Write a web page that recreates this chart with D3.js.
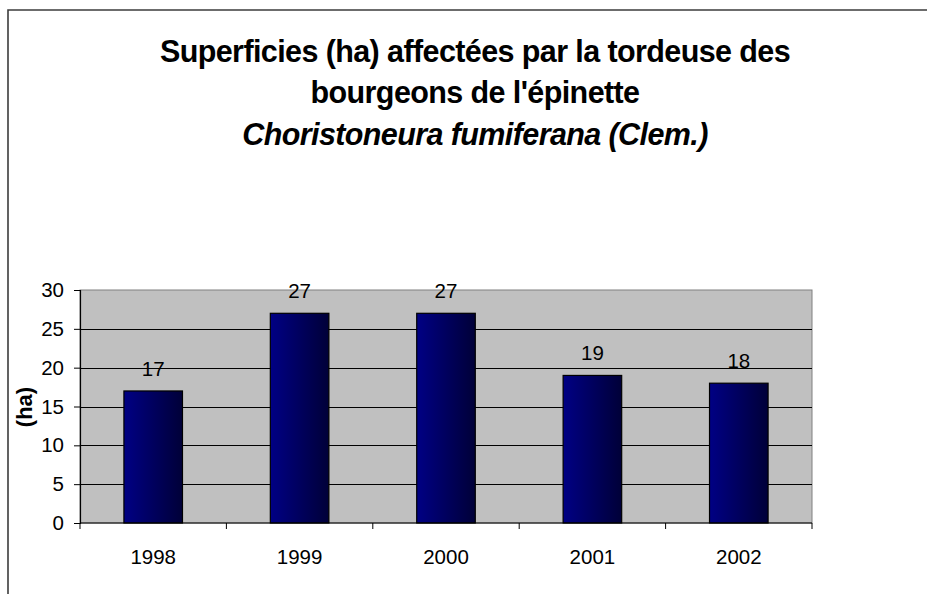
<!DOCTYPE html>
<html>
<head>
<meta charset="utf-8">
<script src="https://cdn.jsdelivr.net/npm/d3@7"></script>
<style>
  html, body { margin: 0; padding: 0; background: #fff; }
  svg { display: block; font-family: "Liberation Sans", Arial, sans-serif; }
</style>
</head>
<body>
<svg id="chart" width="927" height="594"></svg>
<script>
var years = ["1998", "1999", "2000", "2001", "2002"];
var areas = [17, 27, 27, 19, 18];
var yTicks = [0, 5, 10, 15, 20, 25, 30];
var titleLines = [
  "Superficies (ha) affectées par la tordeuse des",
  "bourgeons de l'épinette",
  "Choristoneura fumiferana (Clem.)"
];

document.addEventListener("DOMContentLoaded", function() {
  var svg = d3.select("#chart");

  var plot = { left: 80, right: 812, top: 290, bottom: 523 };

  // outer chart frame (runs off the right and bottom edges)
  svg.append("path")
    .attr("d", "M8,600 L8,10 L940,10")
    .attr("fill", "none")
    .attr("stroke", "#3c3c3c")
    .attr("stroke-width", 1.6);

  // title
  var title = svg.append("g").attr("text-anchor", "middle");
  title.selectAll("text")
    .data(titleLines)
    .enter().append("text")
    .attr("x", 475)
    .attr("y", function(d, i) { return [62, 103, 145][i]; })
    .attr("font-size", "30.5px")
    .attr("letter-spacing", "-0.6px")
    .attr("font-weight", "bold")
    .attr("font-style", function(d, i) { return i === 2 ? "italic" : "normal"; })
    .attr("fill", "#000")
    .text(function(d) { return d; });

  var x = d3.scaleBand()
    .domain(years)
    .range([plot.left, plot.right])
    .paddingInner(0.6)
    .paddingOuter(0.3);

  var y = d3.scaleLinear()
    .domain([0, 30])
    .range([plot.bottom, plot.top]);

  // category boundaries for the tick marks
  var xEdge = d3.scaleLinear()
    .domain([0, years.length])
    .range([plot.left, plot.right]);

  // plot background
  svg.append("rect")
    .attr("x", plot.left)
    .attr("y", plot.top)
    .attr("width", plot.right - plot.left)
    .attr("height", plot.bottom - plot.top)
    .attr("fill", "#c0c0c0")
    .attr("stroke", "#808080")
    .attr("stroke-width", 1);

  // gridlines
  svg.append("g")
    .selectAll("line")
    .data(yTicks.filter(function(d) { return d > 0 && d < 30; }))
    .enter().append("line")
    .attr("x1", plot.left)
    .attr("x2", plot.right)
    .attr("y1", function(d) { return Math.round(y(d)) + 0.5; })
    .attr("y2", function(d) { return Math.round(y(d)) + 0.5; })
    .attr("stroke", "#000")
    .attr("stroke-width", 1);

  // bar gradient
  var grad = svg.append("defs").append("linearGradient")
    .attr("id", "barGrad")
    .attr("x1", "0%").attr("x2", "100%")
    .attr("y1", "0%").attr("y2", "0%");
  grad.append("stop").attr("offset", "0%").attr("stop-color", "#000084");
  grad.append("stop").attr("offset", "100%").attr("stop-color", "#000038");

  var data = years.map(function(yr, i) { return { year: yr, value: areas[i] }; });

  svg.append("g")
    .selectAll("rect")
    .data(data)
    .enter().append("rect")
    .attr("x", function(d) { return x(d.year); })
    .attr("y", function(d) { return y(d.value); })
    .attr("width", x.bandwidth())
    .attr("height", function(d) { return y(0) - y(d.value); })
    .attr("fill", "url(#barGrad)")
    .attr("stroke", "#000")
    .attr("stroke-width", 1.2);

  // value labels
  svg.append("g")
    .attr("text-anchor", "middle")
    .selectAll("text")
    .data(data)
    .enter().append("text")
    .attr("x", function(d) { return x(d.year) + x.bandwidth() / 2; })
    .attr("y", function(d) { return y(d.value) - 15; })
    .attr("font-size", "20.5px")
    .attr("fill", "#000")
    .text(function(d) { return d.value; });

  // y axis
  var yAxis = svg.append("g")
    .attr("transform", "translate(" + plot.left + ",0)")
    .call(d3.axisLeft(y).tickValues(yTicks).tickSize(6).tickPadding(10));
  yAxis.select(".domain").attr("stroke", "#000").attr("stroke-width", 1.2);
  yAxis.selectAll(".tick line").attr("stroke", "#000");
  yAxis.selectAll(".tick text")
    .attr("font-family", "Liberation Sans, Arial, sans-serif")
    .attr("font-size", "20.5px")
    .attr("fill", "#000");

  // x axis line and category ticks
  svg.append("line")
    .attr("x1", plot.left).attr("x2", plot.right)
    .attr("y1", y(0)).attr("y2", y(0))
    .attr("stroke", "#000")
    .attr("stroke-width", 1.2);
  svg.append("g")
    .selectAll("line")
    .data(d3.range(years.length + 1))
    .enter().append("line")
    .attr("x1", function(d) { return xEdge(d); })
    .attr("x2", function(d) { return xEdge(d); })
    .attr("y1", y(0))
    .attr("y2", y(0) + 6)
    .attr("stroke", "#000");

  svg.append("g")
    .attr("text-anchor", "middle")
    .selectAll("text")
    .data(years)
    .enter().append("text")
    .attr("x", function(d) { return x(d) + x.bandwidth() / 2; })
    .attr("y", 564)
    .attr("font-size", "20.5px")
    .attr("fill", "#000")
    .text(function(d) { return d; });

  // y axis title
  svg.append("text")
    .attr("transform", "translate(32,407) rotate(-90)")
    .attr("text-anchor", "middle")
    .attr("font-size", "22px")
    .attr("font-weight", "bold")
    .attr("fill", "#000")
    .text("(ha)");
});
</script>
</body>
</html>
